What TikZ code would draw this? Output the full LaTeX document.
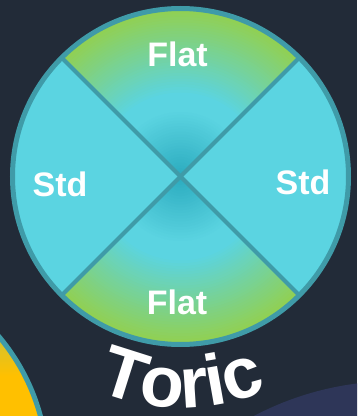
\documentclass[tikz,border=0pt]{standalone}
\usepackage{fontspec}
\setmainfont{Liberation Sans}
\usetikzlibrary{calc}
\definecolor{bg}{HTML}{222B38}
\definecolor{rim}{HTML}{3F9BA8}
\definecolor{stdcyan}{HTML}{5BD4E1}
\definecolor{flatgreen}{HTML}{92D050}
\definecolor{coreteal}{HTML}{2AAABE}
\definecolor{navyblob}{HTML}{2E3658}
\definecolor{sunyellow}{HTML}{FFC000}
\definecolor{sunolive}{HTML}{C8C43C}
\begin{document}
\begin{tikzpicture}[x=1pt,y=1pt,
  sectorlabel/.style={text=white,font=\bfseries\fontsize{34}{34}\selectfont,inner sep=0pt},
  toricletter/.style={text=white,font=\bfseries\fontsize{72}{72}\selectfont,inner sep=0pt,anchor=base},
  divider/.style={draw=rim,line width=4pt},
  rimline/.style={draw=rim,line width=5pt}]
\useasboundingbox (0,0) rectangle (357,416);
\fill[bg] (0,0) rectangle (357,416);
\begin{scope}
  \clip (0,0) rectangle (357,416);
  % navy blob bottom right
  \fill[navyblob] (396,-271) circle (306);
  % yellow blob bottom left
  \fill[sunyellow] (-160,-54) circle (207.5);
  \begin{scope}
    \clip (-160,-54) circle (207.5);
    \shade[top color=sunolive,bottom color=sunyellow] (0,40) rectangle (60,90);
  \end{scope}
  \draw[rimline] (-160,-54) circle (207.5);
\end{scope}
% main disc
\coordinate (C) at (180.5,239.5);
\fill[stdcyan] (C) circle (168);
\begin{scope}
  \clip (C) -- ($(C)+(45:170)$) arc[start angle=45,end angle=135,radius=170] -- cycle
        (C) -- ($(C)+(225:170)$) arc[start angle=225,end angle=315,radius=170] -- cycle;
  \foreach \k in {0,...,30}{
    \pgfmathsetmacro\rr{168*(1-0.5*\k/30)}
    \pgfmathsetmacro\pp{100*(1-\k/30)}
    \fill[flatgreen!\pp!stdcyan] (C) circle (\rr);
  }
  \foreach \k in {0,...,23}{
    \pgfmathsetmacro\rr{168*0.4*(1-\k/24)}
    \pgfmathsetmacro\pp{100*\k/24}
    \fill[coreteal!\pp!stdcyan] (C) circle (\rr);
  }
\end{scope}
\coordinate (d1a) at ($(C)+(45:168)$);
\coordinate (d1b) at ($(C)+(225:168)$);
\coordinate (d2a) at ($(C)+(135:168)$);
\coordinate (d2b) at ($(C)+(315:168)$);
\draw[divider] (d1a) -- (d1b);
\draw[divider] (d2a) -- (d2b);
\draw[rimline] (C) circle (168);
% sector labels
\node[sectorlabel] (flattop) at (177.5,361.5) {Flat};
\node[sectorlabel] (flatbot) at (177,113.5) {Flat};
\node[sectorlabel] (stdleft) at (60,232) {Std};
\node[sectorlabel] (stdright) at (303,234) {Std};
% Toric on an arc
\coordinate (arcO) at (182,223);
\node[toricletter,rotate=-17.59] (lT) at ($(arcO)+(252.41:215)$) {T};
\node[toricletter,rotate=-5.87] (lo) at ($(arcO)+(264.13:215)$) {o};
\node[toricletter,rotate=3.72] (lr) at ($(arcO)+(273.72:215)$) {r};
\node[toricletter,rotate=10.12] (li) at ($(arcO)+(280.12:215)$) {i};
\node[toricletter,rotate=18.12] (lc) at ($(arcO)+(288.12:215)$) {c};
\end{tikzpicture}
\end{document}
